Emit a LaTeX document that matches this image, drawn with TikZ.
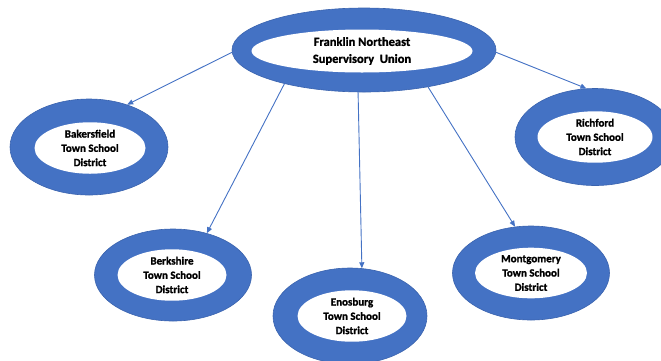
\documentclass[tikz,border=0pt]{standalone}
\usepackage{fontspec}
\setmainfont{Carlito}[BoldFont={Carlito Bold},BoldFeatures={FakeBold=1.3}]
\usepackage{xcolor}
\usetikzlibrary{shapes.geometric,arrows.meta}
\definecolor{ringblue}{HTML}{4472C4}
\definecolor{ringedge}{HTML}{3A63AE}

\begin{document}
\begin{tikzpicture}[x=1pt,y=-1pt,
    ring/.style={ellipse,fill=ringblue,draw=ringedge,line width=0.6pt,inner sep=0pt},
    hole/.style={ellipse,fill=white,inner sep=0pt,align=center,
      font=\fontsize{11}{14.3}\selectfont\bfseries},
    link/.style={draw=ringblue,line width=0.9pt,-{Triangle[length=6pt,width=5pt]}}]
    \useasboundingbox (0,0) rectangle (661,360);

    \node[ring,minimum width=264pt,minimum height=84pt] (sup) at (364,50) {};
    \node[hole,minimum width=221pt,minimum height=43pt,
      font=\fontsize{12.5}{17}\selectfont\bfseries] (supt) at (362,51)
      {Franklin Northeast\\Supervisory~ Union};

    \node[ring,minimum width=158pt,minimum height=96pt] (bak) at (89,147) {};
    \node[hole,minimum width=111pt,minimum height=43pt] (bakt) at (90,148)
      {Bakersfield\\Town School\\District};

    \node[ring,minimum width=157pt,minimum height=92pt] (ber) at (173,275) {};
    \node[hole,minimum width=109pt,minimum height=46pt] (bert) at (172,275)
      {Berkshire\\Town School\\District};

    \node[ring,minimum width=154pt,minimum height=96pt] (eno) at (350,316) {};
    \node[hole,minimum width=109pt,minimum height=45pt] (enot) at (352,316)
      {Enosburg\\Town School\\District};

    \node[ring,minimum width=157pt,minimum height=94pt] (mon) at (531,273) {};
    \node[hole,minimum width=112pt,minimum height=43pt] (mont) at (531,273)
      {Montgomery\\Town School\\District};

    \node[ring,minimum width=160pt,minimum height=97pt] (ric) at (595,137) {};
    \node[hole,minimum width=115pt,minimum height=45pt] (rict) at (595,137)
      {Richford\\Town School\\District};

    \draw[link] (sup.181) to (bak.48);
    \draw[link] (sup.203) to (ber.51);
    \draw[link] (sup.262) to (eno.76);
    \draw[link] (sup.330) to (mon.109);
    \draw[link] (sup.359) to (ric.100);
\end{tikzpicture}
\end{document}
